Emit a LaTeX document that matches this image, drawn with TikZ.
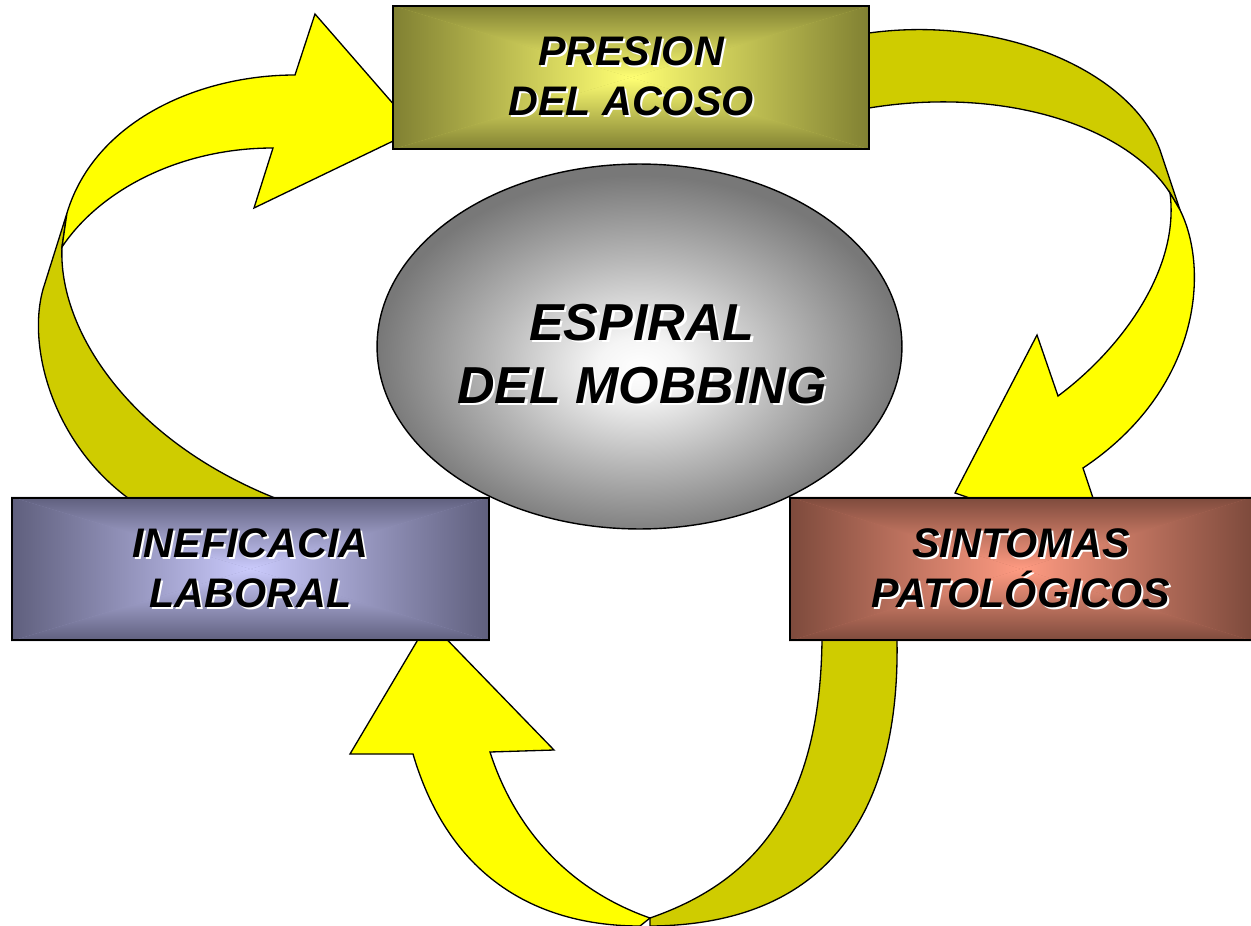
\documentclass[tikz,border=0pt]{standalone}
\usepackage{fontspec}
\setmainfont{Liberation Sans}
\usetikzlibrary{shapes.geometric,backgrounds}

\definecolor{amarillo}{RGB}{255,255,0}
\definecolor{amarillosombra}{RGB}{207,204,0}
\definecolor{olivaborde}{RGB}{128,128,50}
\definecolor{olivacentro}{RGB}{255,255,115}
\definecolor{lilaborde}{RGB}{95,95,125}
\definecolor{lilacentro}{RGB}{202,202,252}
\definecolor{rojoborde}{RGB}{125,74,60}
\definecolor{rojocentro}{RGB}{255,155,130}

\pgfdeclareradialshading{espiralgris}{\pgfpoint{0bp}{-3bp}}{color(0bp)=(white); color(4bp)=(white!96!black); color(14bp)=(black!28); color(25bp)=(black!53); color(50bp)=(black!53)}

% texto con sombra blanca
\newcommand{\sombra}[2][1.1pt]{\makebox[0pt][l]{\hspace{#1}\raisebox{-#1}{\color{white}#2}}#2}

% degradado de caja: #1 nodo, #2 borde, #3 centro
\newcommand{\sombrear}[3]{%
  \fill[#2!50!#3] (#1.north west) rectangle (#1.south east);
  \shade[left color=#2,right color=#3] (#1.north west) -- (#1.south west) -- (#1.center) -- cycle;
  \shade[left color=#3,right color=#2] (#1.north east) -- (#1.south east) -- (#1.center) -- cycle;
  \shade[top color=#2,bottom color=#3] (#1.north west) -- (#1.north east) -- (#1.center) -- cycle;
  \shade[top color=#3,bottom color=#2] (#1.south west) -- (#1.south east) -- (#1.center) -- cycle;}

\begin{document}
\begin{tikzpicture}[x=0.02cm,y=-0.02cm]
	\tikzstyle{caja} = [rectangle,draw,line width=0.9pt,minimum height=2.85cm,inner sep=0pt,align=center,
		font=\bfseries\itshape\fontsize{23.5}{28.5}\selectfont]
	\tikzstyle{espiral} = [ellipse,draw,line width=0.8pt,minimum width=10.5cm,minimum height=7.3cm,shading=espiralgris]
	\tikzstyle{cinta} = [fill=amarillo,draw,line width=0.75pt,line join=miter]
	\tikzstyle{cintaatras} = [cinta,fill=amarillosombra]

	\useasboundingbox (0,0) rectangle (1251,926);

	\node[caja,minimum width=9.52cm] (presion) at (631,77.5) {\sombra{PRESION}\\\sombra{DEL ACOSO}};
	\node[caja,minimum width=9.54cm] (ineficacia) at (250.5,569) {\sombra{INEFICACIA}\\\sombra{LABORAL}};
	\node[caja,minimum width=9.24cm] (sintomas) at (1021,569) {\sombra{SINTOMAS}\\\sombra{PATOLÓGICOS}};
	\node[espiral] (espiral) at (639.5,346.5) {};
	\node[align=center,font=\bfseries\itshape\fontsize{29.6}{36}\selectfont] (titulo) at (642,355)
		{\sombra[1.4pt]{ESPIRAL}\\\sombra[1.4pt]{DEL MOBBING}};

	\begin{scope}[on background layer]
		% ineficacia -> presion
		\path[cintaatras] (128,498) .. controls (50,440) and (25,340) .. (45,283) -- (67,213) -- (62,247)
			.. controls (58,330) and (130,440) .. (275,498) -- cycle;
		\path[cinta] (67,213) .. controls (95,120) and (200,75) .. (295,75) -- (315,14) -- (416,130) -- (254,208)
			-- (273,148) .. controls (180,148) and (100,190) .. (62,247) -- cycle;
		% presion -> sintomas
		\path[cintaatras] (869,33) .. controls (1000,15) and (1130,70) .. (1160,150) -- (1180,210) -- (1170,193)
			.. controls (1130,130) and (1010,85) .. (869,108) -- cycle;
		\path[cinta] (1180,210) .. controls (1210,270) and (1200,390) .. (1083,468) -- (1097,510) -- (990,505)
			-- (955,493) -- (1037,335) -- (1058,396) .. controls (1120,350) and (1180,270) .. (1170,193) -- cycle;
		% sintomas -> ineficacia
		\path[cintaatras] (822,640) -- (897,640) .. controls (900,810) and (830,925) .. (650,926) -- (650,918)
			.. controls (760,880) and (820,800) .. (822,640) -- cycle;
		\path[cinta] (350,754) -- (429,621) -- (554,750) -- (490,752) .. controls (515,830) and (570,890) .. (650,918)
			-- (640,926) .. controls (540,926) and (450,880) .. (413,754) -- cycle;

		\sombrear{presion}{olivaborde}{olivacentro}
		\sombrear{ineficacia}{lilaborde}{lilacentro}
		\sombrear{sintomas}{rojoborde}{rojocentro}
	\end{scope}
\end{tikzpicture}
\end{document}
